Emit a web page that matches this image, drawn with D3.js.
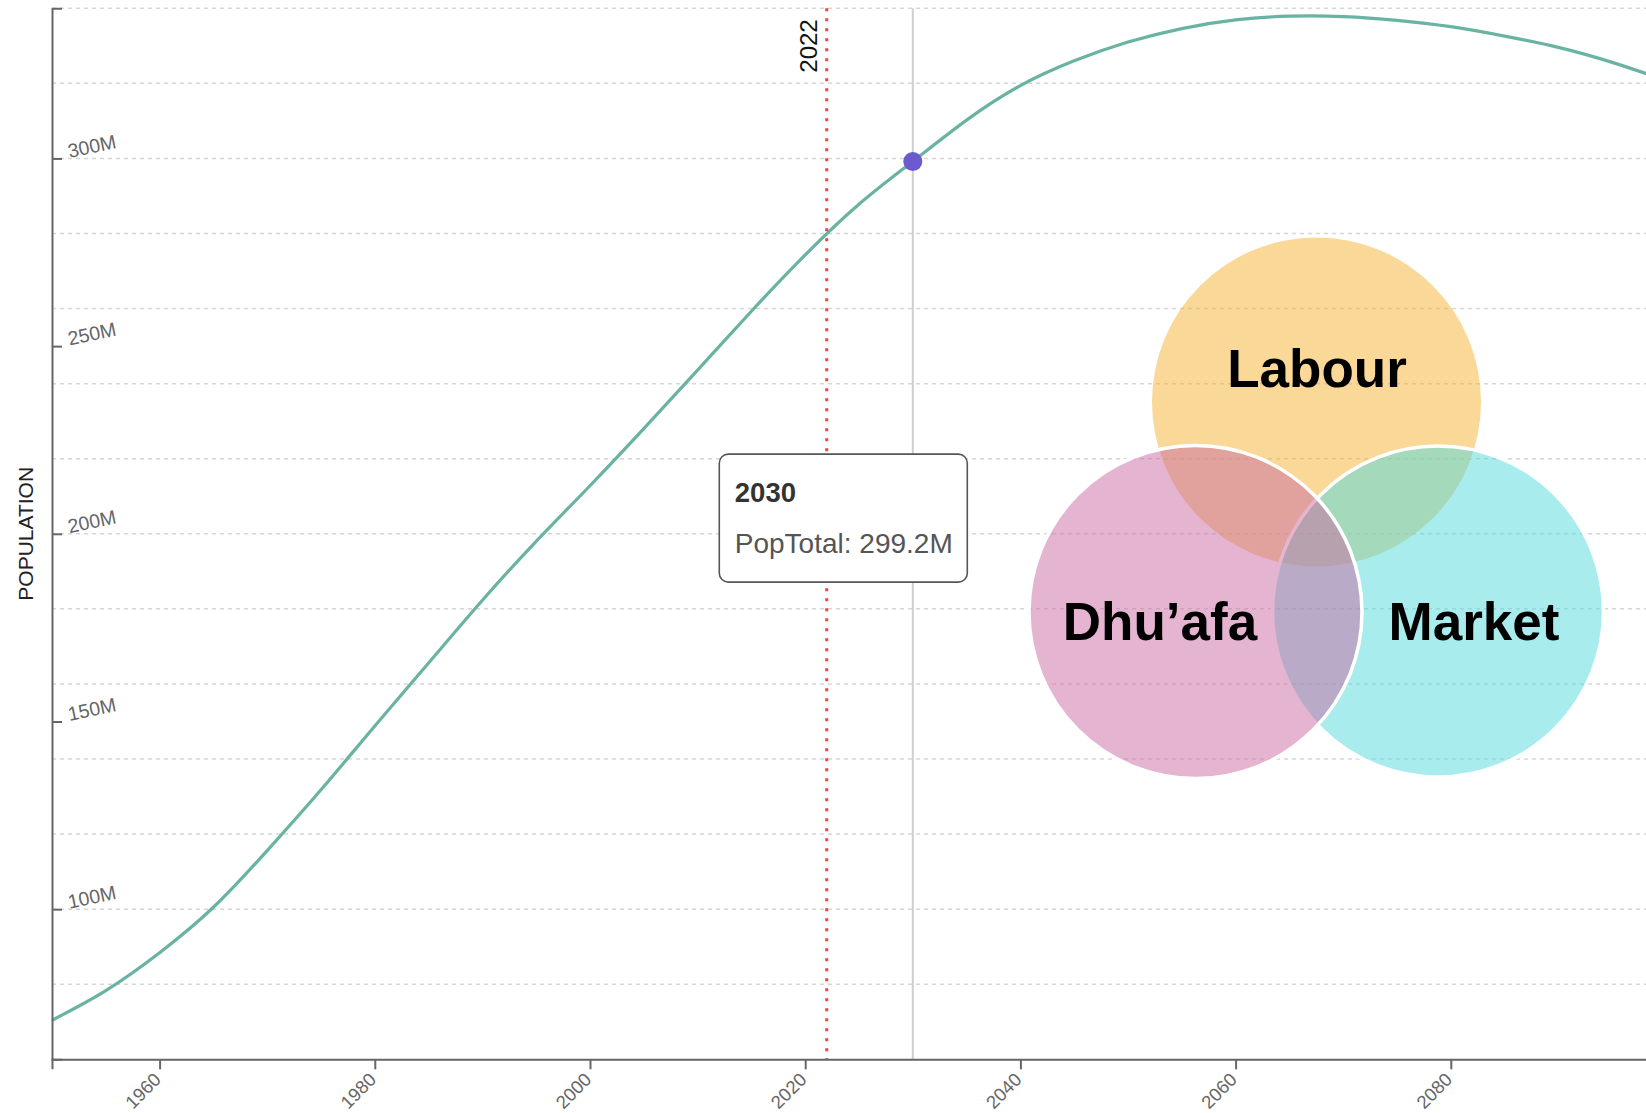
<!DOCTYPE html>
<html>
<head>
<meta charset="utf-8">
<script src="https://cdn.jsdelivr.net/npm/d3@7/dist/d3.min.js"></script>
<style>
  html, body { margin: 0; padding: 0; overflow: hidden; background: #ffffff; }
  svg { display: block; font-family: "Liberation Sans", Arial, sans-serif; }
</style>
</head>
<body>
<svg id="chart" width="1646" height="1113"></svg>
<script>
// ---------------- data ----------------
const years = [1950, 1955, 1960, 1965, 1970, 1975, 1980, 1985, 1990, 1995,
               2000, 2005, 2010, 2015, 2020, 2025, 2030, 2035, 2040, 2045,
               2050, 2055, 2060, 2065, 2070, 2075, 2080, 2085, 2090, 2095, 2100];
// PopTotal in millions
const popTotal = [70.4, 78.3, 88.4, 100.5, 115.6, 131.8, 148.8, 165.6, 182.3, 198.0,
                  212.8, 228.0, 243.6, 259.3, 274.3, 287.8, 299.2, 310.2, 319.4, 326.0,
                  331.0, 334.6, 336.9, 337.9, 337.8, 336.8, 335.1, 332.6, 329.6, 325.6, 320.8];
const yTickValues = [100, 150, 200, 250, 300];
const gridValues = [80, 100, 120, 140, 160, 180, 200, 220, 240, 260, 280, 300, 320, 340];
const xTickValues = [1960, 1980, 2000, 2020, 2040, 2060, 2080];
const markerYear = 2022;
const hoverYear = 2030;
const hoverValue = 299.2;
const hoverSeries = "PopTotal";
const yTitle = "POPULATION";
const vennLabels = ["Labour", "Market", "Dhu\u2019afa"];

// ---------------- layout ----------------
(function () {
const svg = d3.select("#chart");
const mLeft = 52, mTop = 8.3, mBottom = 1059.3, mRight = 1666;
const x = d3.scaleLinear().domain([1950, 2100]).range([mLeft, mRight]);
const y = d3.scaleLinear().domain([60, 340]).range([mBottom, mTop]);

// gridlines
svg.append("g").selectAll("line").data(gridValues).join("line")
  .attr("x1", mLeft).attr("x2", mRight)
  .attr("y1", d => y(d)).attr("y2", d => y(d))
  .attr("stroke", "#d6d6d6").attr("stroke-width", 1.5)
  .attr("stroke-dasharray", "4,4");

// hover vertical line
svg.append("line")
  .attr("x1", x(hoverYear)).attr("x2", x(hoverYear))
  .attr("y1", mTop).attr("y2", mBottom)
  .attr("stroke", "#cfcfcf").attr("stroke-width", 2);

// population line
const line = d3.line()
  .x((d, i) => x(years[i]))
  .y(d => y(d))
  .curve(d3.curveNatural);
svg.append("path")
  .attr("d", line(popTotal))
  .attr("fill", "none")
  .attr("stroke", "#69b3a2")
  .attr("stroke-width", 3.2);

// 2022 marker line
svg.append("line")
  .attr("x1", x(markerYear)).attr("x2", x(markerYear))
  .attr("y1", mTop).attr("y2", mBottom)
  .attr("stroke", "#ff3b3b").attr("stroke-width", 3)
  .attr("stroke-dasharray", "3,7");
svg.append("text")
  .attr("transform", `translate(${x(markerYear) - 10},${mTop + 11}) rotate(-90)`)
  .attr("text-anchor", "end")
  .attr("font-size", 24)
  .attr("fill", "#111")
  .text(markerYear);

// hover dot
svg.append("circle")
  .attr("cx", x(hoverYear)).attr("cy", y(hoverValue))
  .attr("r", 9.5)
  .attr("fill", "#6a5acd");

// y axis
const yAxis = svg.append("g")
  .attr("transform", `translate(${mLeft},0)`)
  .call(d3.axisRight(y).tickValues(yTickValues).tickSize(10).tickFormat(d => d + "M"));
yAxis.select(".domain").attr("stroke", "#666").attr("stroke-width", 2);
yAxis.selectAll(".tick line").attr("stroke", "#666").attr("stroke-width", 2);
yAxis.selectAll(".tick text")
  .attr("x", 0).attr("dy", 0)
  .attr("transform", "translate(17.5,-1) rotate(-12)")
  .attr("text-anchor", "start")
  .attr("font-size", 19.5)
  .attr("font-family", "Liberation Sans, Arial, sans-serif")
  .attr("fill", "#666");

// x axis
const xAxis = svg.append("g")
  .attr("transform", `translate(0,${mBottom})`)
  .call(d3.axisBottom(x).tickValues(xTickValues).tickSize(10).tickFormat(d3.format("d")));
xAxis.select(".domain").attr("stroke", "#666").attr("stroke-width", 2);
xAxis.selectAll(".tick line").attr("stroke", "#666").attr("stroke-width", 2);
xAxis.selectAll(".tick text")
  .attr("x", 0).attr("y", 0).attr("dy", 0)
  .attr("transform", "translate(2,21.5) rotate(-45)")
  .attr("text-anchor", "end")
  .attr("font-size", 18.5)
  .attr("font-family", "Liberation Sans, Arial, sans-serif")
  .attr("fill", "#666");

// y title
svg.append("text")
  .attr("transform", `translate(33,${(mTop + mBottom) / 2}) rotate(-90)`)
  .attr("text-anchor", "middle")
  .attr("font-size", 21)
  .attr("fill", "#222")
  .text(yTitle);

// tooltip
const tipX = x(hoverYear) - 193.5, tipY = y(hoverValue) + 292.7;
const tip = svg.append("g").attr("transform", `translate(${tipX},${tipY})`);
tip.append("rect")
  .attr("width", 248).attr("height", 128).attr("rx", 9).attr("ry", 9)
  .attr("fill", "#fff").attr("stroke", "#555").attr("stroke-width", 1.6);
tip.append("text")
  .attr("x", 15.5).attr("y", 48)
  .attr("font-size", 27.5).attr("font-weight", "bold").attr("fill", "#333")
  .text(hoverYear);
tip.append("text")
  .attr("x", 15.5).attr("y", 98.5)
  .attr("font-size", 28).attr("fill", "#555")
  .text(`${hoverSeries}: ${hoverValue}M`);

// venn overlay
const venn = svg.append("g");
const vennLayout = [
  { cx: 1316.5, cy: 402, r: 164.5, fill: "rgba(243,177,49,0.5)", stroke: "none" },
  { cx: 1438, cy: 611.5, r: 165.5, fill: "rgba(81,217,221,0.5)", stroke: "#fff" },
  { cx: 1195.5, cy: 612, r: 166.5, fill: "rgba(201,105,161,0.5)", stroke: "#fff" }
];
venn.selectAll("circle").data(vennLayout).join("circle")
  .attr("cx", d => d.cx).attr("cy", d => d.cy).attr("r", d => d.r)
  .attr("fill", d => d.fill)
  .attr("stroke", d => d.stroke).attr("stroke-width", 3.5);
const labelPos = [[1317, 386.5], [1474, 640], [1160, 640]];
venn.selectAll("text").data(vennLabels).join("text")
  .attr("x", (d, i) => labelPos[i][0]).attr("y", (d, i) => labelPos[i][1])
  .attr("text-anchor", "middle")
  .attr("font-size", 53).attr("font-weight", "bold").attr("fill", "#000")
  .text(d => d);
})();
</script>
</body>
</html>
